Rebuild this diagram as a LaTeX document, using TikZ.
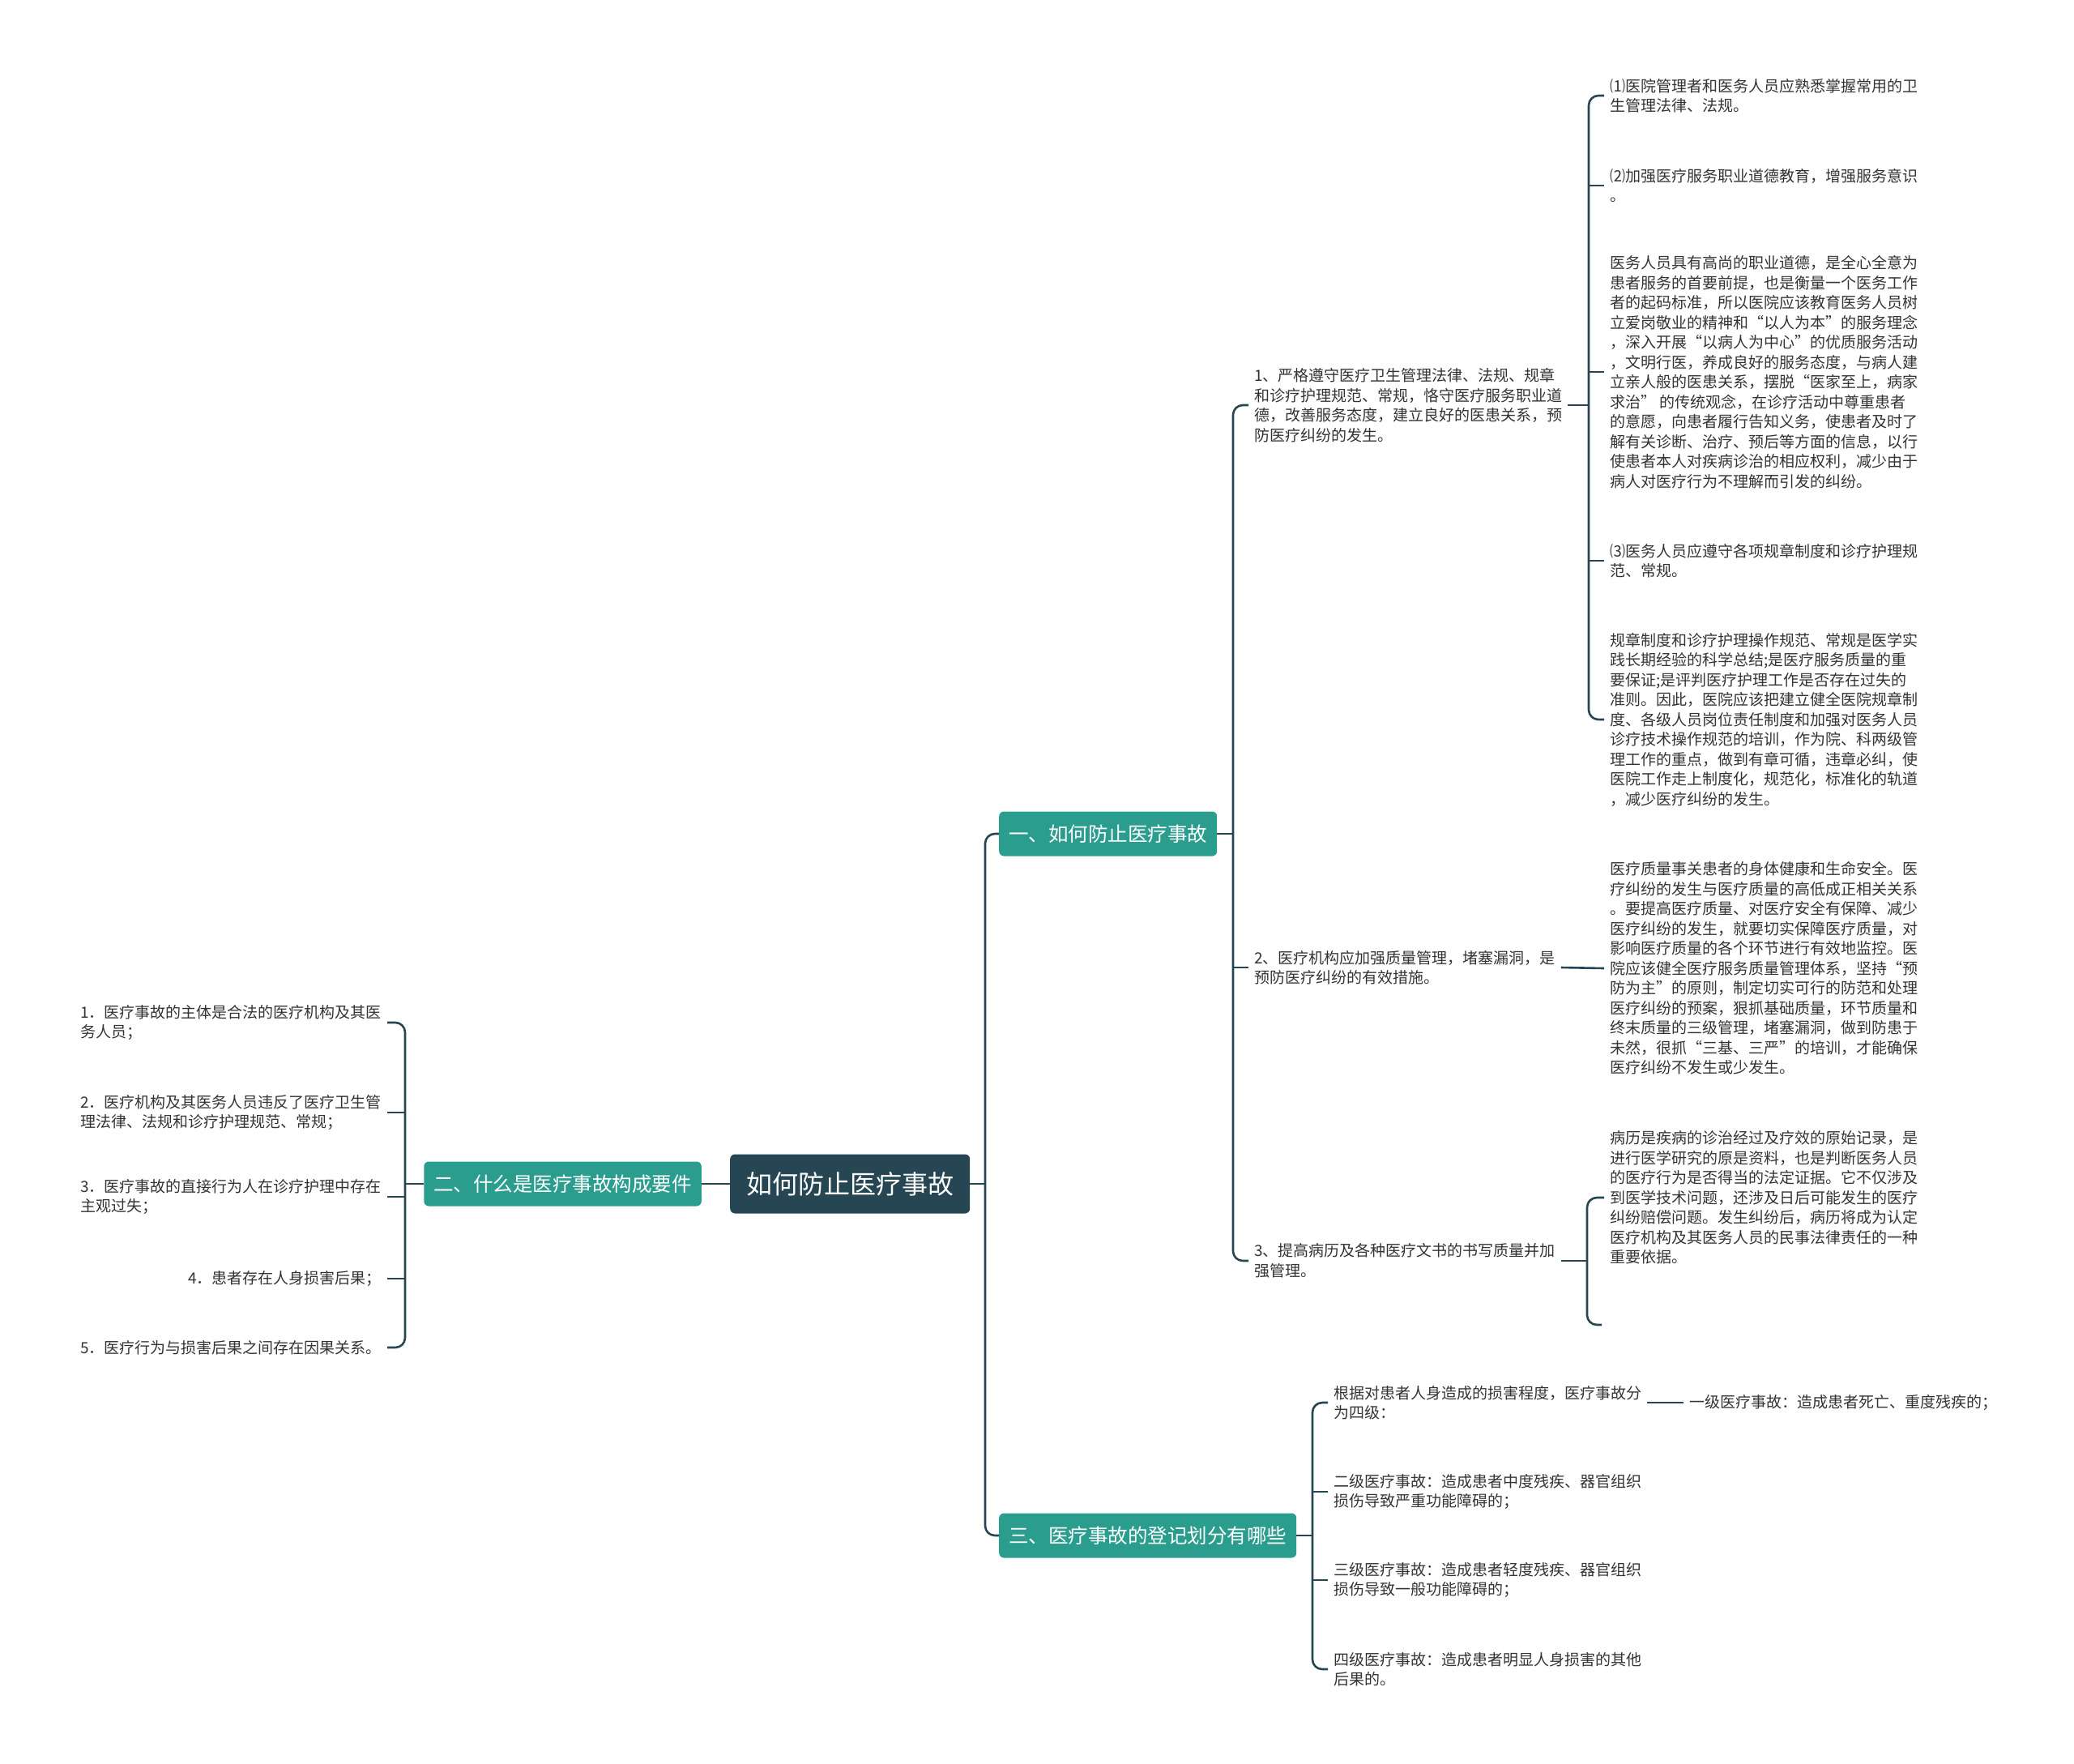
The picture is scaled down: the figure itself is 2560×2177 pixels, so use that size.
\documentclass[tikz,border=0pt]{standalone}
\usepackage{fontspec}
\setmainfont{Noto Sans CJK SC}
\definecolor{dk1}{HTML}{264653}
\definecolor{tl1}{HTML}{2A9D8F}
\definecolor{gr1}{HTML}{333333}
\begin{document}
\begin{tikzpicture}[x=1pt,y=-1pt,
 conn/.style={draw=dk1,line width=2.6pt,rounded corners=12pt},
 root/.style={fill=dk1,text=white,rounded corners=6pt,font=\fontsize{32pt}{38pt}\selectfont,minimum height=73pt,inner xsep=20pt},
 topic/.style={fill=tl1,text=white,rounded corners=6pt,font=\fontsize{24.5pt}{30pt}\selectfont,minimum height=55pt,inner xsep=12pt},
 leaf/.style={text=gr1,align=left,inner xsep=7pt,inner ysep=0pt,font=\fontsize{19pt}{24.5pt}\selectfont}]
\useasboundingbox (0,0) rectangle (2560,2177);
%%
\node[root,anchor=west] (r) at (901,1461) {如何防止医疗事故};
\node[topic,anchor=west] (t1) at (1233,1029) {一、如何防止医疗事故};
\node[topic,anchor=east] (t2) at (866,1461) {二、什么是医疗事故构成要件};
\node[topic,anchor=west] (t3) at (1233,1895) {三、医疗事故的登记划分有哪些};
\draw[conn] (r.east) -- (1216,1461);
\draw[conn] (t1.west) -- (1216,1029) -- (1216,1895) -- (t3.west);
\draw[conn] (r.west) -- (t2.east);
%% 一
\node[leaf,anchor=west] (a1) at (1541,500) {1、严格遵守医疗卫生管理法律、法规、规章\\和诊疗护理规范、常规，恪守医疗服务职业道\\德，改善服务态度，建立良好的医患关系，预\\防医疗纠纷的发生。};
\node[leaf,anchor=west] (a2) at (1541,1194) {2、医疗机构应加强质量管理，堵塞漏洞，是\\预防医疗纠纷的有效措施。};
\node[leaf,anchor=west] (a3) at (1541,1556) {3、提高病历及各种医疗文书的书写质量并加\\强管理。};
\draw[conn] (t1.east) -- (1522,1029);
\draw[conn] (a1.west) -- (1522,500) -- (1522,1556) -- (a3.west);
\draw[conn] (a2.west) -- (1522,1194);
%%
\node[leaf,anchor=west] (a11) at (1980,118) {⑴医院管理者和医务人员应熟悉掌握常用的卫\\生管理法律、法规。};
\node[leaf,anchor=west] (a12) at (1980,229) {⑵加强医疗服务职业道德教育，增强服务意识\\。};
\node[leaf,anchor=west] (a13) at (1980,459) {医务人员具有高尚的职业道德，是全心全意为\\患者服务的首要前提，也是衡量一个医务工作\\者的起码标准，所以医院应该教育医务人员树\\立爱岗敬业的精神和“以人为本”的服务理念\\，深入开展“以病人为中心”的优质服务活动\\，文明行医，养成良好的服务态度，与病人建\\立亲人般的医患关系，摆脱“医家至上，病家\\求治” 的传统观念，在诊疗活动中尊重患者\\的意愿，向患者履行告知义务，使患者及时了\\解有关诊断、治疗、预后等方面的信息，以行\\使患者本人对疾病诊治的相应权利，减少由于\\病人对医疗行为不理解而引发的纠纷。};
\node[leaf,anchor=west] (a14) at (1980,692) {⑶医务人员应遵守各项规章制度和诊疗护理规\\范、常规。};
\node[leaf,anchor=west] (a15) at (1980,888) {规章制度和诊疗护理操作规范、常规是医学实\\践长期经验的科学总结;是医疗服务质量的重\\要保证;是评判医疗护理工作是否存在过失的\\准则。因此，医院应该把建立健全医院规章制\\度、各级人员岗位责任制度和加强对医务人员\\诊疗技术操作规范的培训，作为院、科两级管\\理工作的重点，做到有章可循，违章必纠，使\\医院工作走上制度化，规范化，标准化的轨道\\，减少医疗纠纷的发生。};
\draw[conn] (a1.east) -- (1961,500);
\draw[conn] (a11.west) -- (1961,118) -- (1961,888) -- (a15.west);
\draw[conn] (a12.west) -- (1961,229);
\draw[conn] (a13.west) -- (1961,459);
\draw[conn] (a14.west) -- (1961,692);
%%
\node[leaf,anchor=west] (a21) at (1980,1195) {医疗质量事关患者的身体健康和生命安全。医\\疗纠纷的发生与医疗质量的高低成正相关关系\\。要提高医疗质量、对医疗安全有保障、减少\\医疗纠纷的发生，就要切实保障医疗质量，对\\影响医疗质量的各个环节进行有效地监控。医\\院应该健全医疗服务质量管理体系，坚持“预\\防为主”的原则，制定切实可行的防范和处理\\医疗纠纷的预案，狠抓基础质量，环节质量和\\终末质量的三级管理，堵塞漏洞，做到防患于\\未然，很抓“三基、三严”的培训，才能确保\\医疗纠纷不发生或少发生。};
\draw[conn] (a2.east) -- (a21.west);
%%
\node[leaf,anchor=west] (a31) at (1980,1478) {病历是疾病的诊治经过及疗效的原始记录，是\\进行医学研究的原是资料，也是判断医务人员\\的医疗行为是否得当的法定证据。它不仅涉及\\到医学技术问题，还涉及日后可能发生的医疗\\纠纷赔偿问题。发生纠纷后，病历将成为认定\\医疗机构及其医务人员的民事法律责任的一种\\重要依据。};
\coordinate (a32) at (1977,1635);
\draw[conn] (a3.east) -- (1959,1556);
\draw[conn] (a31.west) -- (1959,1478) -- (1959,1635) -- (a32);
%% 二
\node[leaf,anchor=east] (b1) at (478,1262) {1．医疗事故的主体是合法的医疗机构及其医\\务人员；};
\node[leaf,anchor=east] (b2) at (478,1373) {2．医疗机构及其医务人员违反了医疗卫生管\\理法律、法规和诊疗护理规范、常规；};
\node[leaf,anchor=east] (b3) at (478,1477) {3．医疗事故的直接行为人在诊疗护理中存在\\主观过失；};
\node[leaf,anchor=east] (b4) at (478,1578) {4．患者存在人身损害后果；};
\node[leaf,anchor=east] (b5) at (478,1663) {5．医疗行为与损害后果之间存在因果关系。};
\draw[conn] (t2.west) -- (500,1461);
\draw[conn] (b1.east) -- (500,1262) -- (500,1663) -- (b5.east);
\draw[conn] (b2.east) -- (500,1373);
\draw[conn] (b3.east) -- (500,1477);
\draw[conn] (b4.east) -- (500,1578);
%% 三
\node[leaf,anchor=west] (c1) at (1639,1731) {根据对患者人身造成的损害程度，医疗事故分\\为四级：};
\node[leaf,anchor=west] (c11) at (2078,1731) {一级医疗事故：造成患者死亡、重度残疾的；};
\node[leaf,anchor=west] (c2) at (1639,1841) {二级医疗事故：造成患者中度残疾、器官组织\\损伤导致严重功能障碍的；};
\node[leaf,anchor=west] (c3) at (1639,1950) {三级医疗事故：造成患者轻度残疾、器官组织\\损伤导致一般功能障碍的；};
\node[leaf,anchor=west] (c4) at (1639,2060) {四级医疗事故：造成患者明显人身损害的其他\\后果的。};
\draw[conn] (t3.east) -- (1620,1895);
\draw[conn] (c1.west) -- (1620,1731) -- (1620,2060) -- (c4.west);
\draw[conn] (c2.west) -- (1620,1841);
\draw[conn] (c3.west) -- (1620,1950);
\draw[conn] (c1.east) -- (c11.west);
\end{tikzpicture}
\end{document}
